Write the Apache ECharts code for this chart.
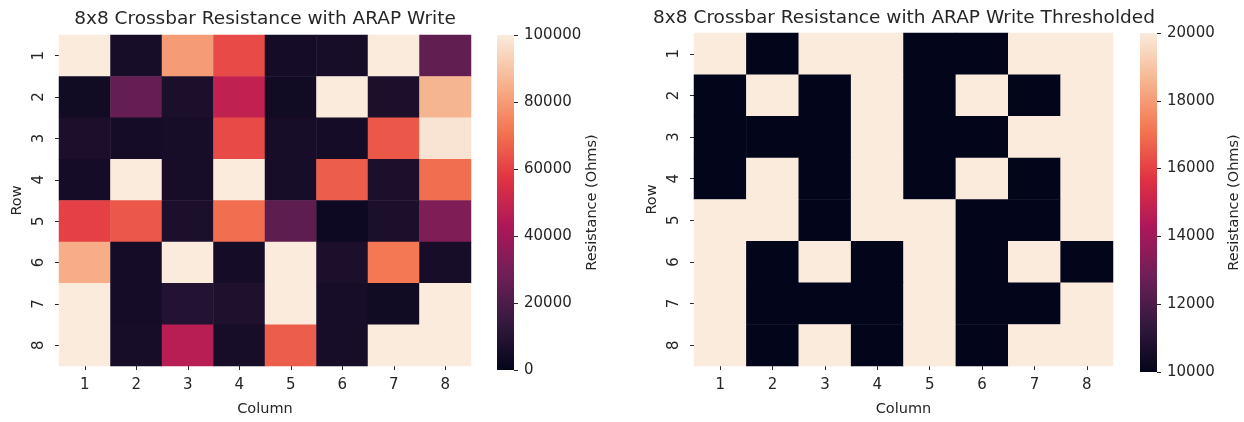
<!DOCTYPE html>
<html>
<head>
<meta charset="utf-8">
<title>8x8 Crossbar Resistance</title>
<script src="https://cdn.jsdelivr.net/npm/echarts@6/dist/echarts.min.js"></script>
<style>
  html, body { margin: 0; padding: 0; background: #ffffff; }
  #chart { width: 1244px; height: 422px; }
</style>
</head>
<body>
<div id="chart"></div>
<script>
// Crossbar coordinates
const columns = ['1', '2', '3', '4', '5', '6', '7', '8'];
const rows = ['1', '2', '3', '4', '5', '6', '7', '8'];

// Measured resistance after ARAP write (Ohms), one array per row
const row1 = [100000, 6000, 80000, 62000, 5000, 6000, 100000, 25000];
const row2 = [4000, 26000, 7000, 48000, 4000, 100000, 7000, 86000];
const row3 = [7000, 5000, 6000, 62000, 6000, 5000, 65000, 98000];
const row4 = [5000, 100000, 6000, 100000, 6000, 66000, 7000, 70000];
const row5 = [60000, 65000, 7000, 70000, 24000, 3000, 7000, 32000];
const row6 = [84000, 5000, 100000, 5000, 100000, 7000, 72000, 6000];
const row7 = [100000, 5000, 9000, 8000, 100000, 6000, 4000, 100000];
const row8 = [100000, 6000, 46000, 6000, 66000, 6000, 100000, 100000];
const resistance = [row1, row2, row3, row4, row5, row6, row7, row8];

// Thresholded states (Ohms): 20000 = high, 10000 = low
const thr1 = [20000, 10000, 20000, 20000, 10000, 10000, 20000, 20000];
const thr2 = [10000, 20000, 10000, 20000, 10000, 20000, 10000, 20000];
const thr3 = [10000, 10000, 10000, 20000, 10000, 10000, 20000, 20000];
const thr4 = [10000, 20000, 10000, 20000, 10000, 20000, 10000, 20000];
const thr5 = [20000, 20000, 10000, 20000, 20000, 10000, 10000, 20000];
const thr6 = [20000, 10000, 20000, 10000, 20000, 10000, 20000, 10000];
const thr7 = [20000, 10000, 10000, 10000, 20000, 10000, 10000, 20000];
const thr8 = [20000, 10000, 20000, 10000, 20000, 10000, 20000, 20000];
const thresholded = [thr1, thr2, thr3, thr4, thr5, thr6, thr7, thr8];

// Colour bar ticks
const rawTicks = [0, 20000, 40000, 60000, 80000, 100000];
const thrTicks = [10000, 12000, 14000, 16000, 18000, 20000];

// "rocket" colour map stops, low to high
const rocket = ['#03051a', '#35193e', '#701f57', '#ad1759', '#e13342', '#f37651', '#f6b48f', '#faebdd'];

const FONT = 'DejaVu Sans';
const INK = '#262626';
const TICK = 15;
const LABEL = 14.5;

function toCells(matrix) {
  const out = [];
  matrix.forEach((r, ri) => r.forEach((v, ci) => out.push([ci, ri, v])));
  return out;
}

// vertical gradient for the colour bar (top = high end)
function rocketGradient() {
  const n = rocket.length - 1;
  return new echarts.graphic.LinearGradient(0, 1, 0, 0,
    rocket.map((c, i) => ({ offset: i / n, color: c })));
}

function heatAxes(gridIndex) {
  return {
    x: {
      type: 'category', gridIndex, data: columns,
      axisLine: { show: false },
      axisTick: { show: true, alignWithLabel: true, length: 4, lineStyle: { color: INK } },
      axisLabel: { color: INK, fontFamily: FONT, fontSize: TICK, margin: 12 },
      splitLine: { show: false },
      name: 'Column', nameLocation: 'middle', nameGap: 36,
      nameTextStyle: { color: INK, fontFamily: FONT, fontSize: LABEL }
    },
    y: {
      type: 'category', gridIndex, data: rows, inverse: true,
      axisLine: { show: false },
      axisTick: { show: true, alignWithLabel: true, length: 4, lineStyle: { color: INK } },
      axisLabel: { color: INK, fontFamily: FONT, fontSize: TICK, rotate: 90, margin: 12 },
      splitLine: { show: false },
      name: 'Row', nameLocation: 'middle', nameGap: 34,
      nameTextStyle: { color: INK, fontFamily: FONT, fontSize: LABEL }
    }
  };
}

function barAxes(gridIndex, ticks) {
  return {
    x: { type: 'category', gridIndex, show: false, data: ['bar'] },
    y: {
      type: 'value', gridIndex, position: 'right',
      min: ticks[0], max: ticks[ticks.length - 1], interval: ticks[1] - ticks[0],
      axisLine: { show: false },
      axisTick: { show: true, length: 4, lineStyle: { color: INK } },
      axisLabel: { color: INK, fontFamily: FONT, fontSize: TICK, margin: 10,
        formatter: (v) => String(v) },
      splitLine: { show: false },
      name: 'Resistance (Ohms)', nameLocation: 'middle', nameGap: 70,
      nameTextStyle: { color: INK, fontFamily: FONT, fontSize: LABEL }
    }
  };
}

const leftAxes = heatAxes(0);
const rightAxes = heatAxes(1);
const leftBar = barAxes(2, rawTicks);
const rightBar = barAxes(3, thrTicks);

const option = {
  backgroundColor: '#ffffff',
  animation: false,
  title: [
    {
      text: '8x8 Crossbar Resistance with ARAP Write',
      left: 265, top: 10, textAlign: 'center', padding: 0,
      textStyle: { color: INK, fontFamily: FONT, fontSize: 18.5, fontWeight: 'normal' }
    },
    {
      text: '8x8 Crossbar Resistance with ARAP Write Thresholded',
      left: 904, top: 9, textAlign: 'center', padding: 0,
      textStyle: { color: INK, fontFamily: FONT, fontSize: 18.5, fontWeight: 'normal' }
    }
  ],
  grid: [
    { left: 59, top: 35, width: 412, height: 335 },
    { left: 694, top: 33, width: 419, height: 339 },
    { left: 497, top: 35, width: 17, height: 335 },
    { left: 1140, top: 33, width: 17, height: 339 }
  ],
  xAxis: [leftAxes.x, rightAxes.x, leftBar.x, rightBar.x],
  yAxis: [leftAxes.y, rightAxes.y, leftBar.y, rightBar.y],
  visualMap: [
    {
      type: 'continuous', seriesIndex: 0, show: false,
      min: rawTicks[0], max: rawTicks[rawTicks.length - 1],
      inRange: { color: rocket }
    },
    {
      type: 'continuous', seriesIndex: 1, show: false,
      min: thrTicks[0], max: thrTicks[thrTicks.length - 1],
      inRange: { color: rocket }
    }
  ],
  series: [
    {
      type: 'heatmap', xAxisIndex: 0, yAxisIndex: 0,
      data: toCells(resistance),
      itemStyle: { borderWidth: 0 },
      emphasis: { disabled: true }
    },
    {
      type: 'heatmap', xAxisIndex: 1, yAxisIndex: 1,
      data: toCells(thresholded),
      itemStyle: { borderWidth: 0 },
      emphasis: { disabled: true }
    },
    {
      // colour bar, spanning the full range of its axis
      type: 'bar', xAxisIndex: 2, yAxisIndex: 2,
      data: [rawTicks[rawTicks.length - 1]], barWidth: '100%',
      itemStyle: { color: rocketGradient() },
      silent: true
    },
    {
      type: 'bar', xAxisIndex: 3, yAxisIndex: 3,
      data: [thrTicks[thrTicks.length - 1]], barWidth: '100%',
      itemStyle: { color: rocketGradient() },
      silent: true
    }
  ]
};

const chart = echarts.init(document.getElementById('chart'), null, { renderer: 'canvas' });
chart.setOption(option);
</script>
</body>
</html>
